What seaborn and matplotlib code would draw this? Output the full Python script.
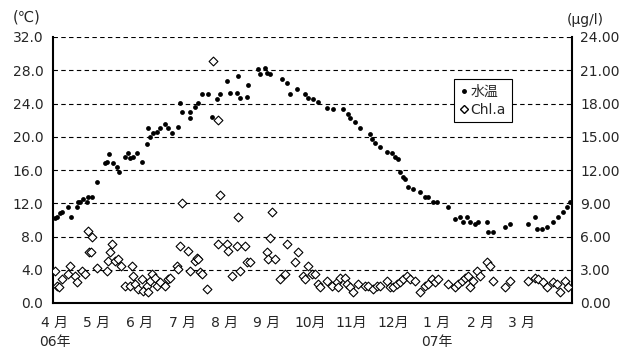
import matplotlib
matplotlib.use("Agg")
import matplotlib.pyplot as plt
from matplotlib.lines import Line2D
import seaborn as sns
import pandas as pd

# ---- data (day counted from 1 April 2006) ----
temp_day = [1.4, 2.8, 4.9, 6.3, 10.5, 12.7, 16.9, 17.6, 19.0, 21.1, 23.9, 24.6, 27.4, 30.9,
            36.6, 38.0, 39.4, 42.2, 45.0, 46.4, 50.6, 52.7, 54.2, 56.3, 59.1, 62.6, 66.1, 66.8,
            68.2, 70.3, 73.1, 75.3, 78.8, 80.9, 83.7, 87.9, 89.3, 90.7, 96.4, 96.4, 99.9, 102.0,
            104.8, 109.0, 111.8, 115.3, 117.5, 122.4, 124.5, 129.4, 130.1, 131.5, 136.4, 137.1,
            144.2, 145.6, 149.1, 150.5, 152.6, 161.1, 164.6, 166.7, 171.6, 177.2, 179.3, 182.9,
            186.4, 192.7, 196.9, 204.0, 207.5, 208.9, 212.4, 215.9, 223.0, 224.4, 226.5, 230.0,
            234.9, 238.4, 240.5, 242.7, 244.1, 246.0, 247.6, 249.7, 253.2, 258.1, 261.6, 263.7,
            267.3, 270.1, 277.8, 282.7, 286.2, 288.3, 291.2, 293.3, 296.8, 298.9, 305.2, 305.9,
            309.5, 317.9, 321.4, 334.1, 339.0, 340.4, 343.9, 347.4, 351.7, 355.2, 358.7, 361.5,
            363.6]
temp_val = [10.2, 10.4, 10.8, 10.9, 11.6, 10.4, 11.6, 12.1, 12.2, 12.5, 12.2, 12.7, 12.8, 14.5,
            16.9, 17.0, 17.9, 16.9, 16.4, 15.8, 17.6, 18.1, 17.4, 17.6, 18.1, 17.0, 19.1, 21.1,
            20.0, 20.5, 20.6, 21.1, 21.5, 21.1, 20.5, 21.2, 24.1, 23.0, 22.3, 23.0, 23.6, 24.1,
            25.1, 25.2, 22.4, 24.5, 25.1, 26.7, 25.3, 25.3, 27.3, 24.7, 24.8, 26.2,
            28.1, 27.5, 28.3, 27.7, 27.5, 26.9, 26.5, 25.1, 25.7, 25.1, 24.7, 24.5,
            24.2, 23.5, 23.3, 23.3, 22.7, 22.3, 21.8, 21.1, 20.3, 19.7, 19.3, 18.8,
            18.2, 18.1, 17.6, 17.3, 15.8, 15.1, 14.9, 14.0, 13.7, 13.3, 12.8, 12.7,
            12.1, 12.2, 11.5, 10.1, 10.3, 9.8, 10.3, 9.7, 9.5, 9.7, 9.7, 8.6,
            8.6, 9.1, 9.5, 9.5, 10.4, 8.9, 8.9, 9.1, 9.8, 10.3, 10.9, 11.5,
            12.1]

chl_day = [1.4, 2.8, 4.2, 6.3, 10.5, 12.0, 15.5, 16.9, 20.4, 22.5, 24.6, 25.3, 26.7, 27.4, 30.9,
           38.0, 38.7, 40.1, 41.5, 43.6, 45.7, 47.8, 50.6, 54.2, 55.6, 56.3, 57.7, 59.8, 62.6,
           63.3, 66.1, 66.8, 68.2, 69.6, 71.7, 73.1, 75.3, 78.8, 80.9, 82.3, 87.2, 87.9, 89.3,
           90.7, 94.9, 96.4, 99.9, 101.3, 102.0, 103.4, 104.8, 108.3, 112.5, 116.0, 116.0, 117.5,
           122.4, 123.1, 125.9, 129.4, 130.1, 131.5, 135.0, 136.4, 138.6, 150.5, 151.2, 152.6,
           154.0, 156.1, 159.6, 163.2, 164.6, 170.2, 172.3, 175.8, 177.2, 179.3, 182.2, 184.3,
           186.4, 187.8, 192.7, 196.2, 199.7, 200.4, 201.8, 205.4, 206.8, 208.9, 211.0, 214.5,
           219.4, 221.5, 225.1, 227.9, 230.0, 234.9, 237.0, 239.1, 241.9, 244.1, 246.2, 249.0,
           251.1, 254.6, 258.1, 261.6, 263.7, 266.6, 268.7, 270.8, 277.8, 282.7, 284.8, 287.7,
           289.8, 291.9, 293.3, 295.4, 298.2, 300.3, 305.2, 307.3, 309.5, 317.9, 321.4, 334.1,
           339.0, 341.1, 344.6, 347.4, 351.7, 354.5, 356.6, 360.1, 362.2]
chl_val = [2.9, 1.5, 1.4, 2.2, 2.6, 3.3, 2.4, 1.9, 2.9, 2.6, 6.5, 4.6, 4.6, 6.0, 3.2,
           2.9, 3.8, 4.6, 5.3, 3.8, 4.0, 3.3, 1.5, 1.5, 3.3, 2.4, 1.7, 1.3, 2.2,
           1.1, 1.5, 1.0, 2.0, 2.6, 2.3, 1.5, 1.9, 1.5, 2.2, 2.3, 3.3, 3.1, 5.1,
           9.0, 4.7, 2.9, 3.8, 4.1, 4.0, 2.8, 2.6, 1.3, 21.8, 16.5, 5.3, 9.7,
           5.3, 4.7, 2.4, 5.1, 7.8, 2.9, 5.1, 3.7, 3.7, 4.6, 4.0, 5.9,
           8.2, 4.0, 2.2, 2.6, 5.3, 3.7, 4.6, 2.4, 2.2, 3.3, 2.6, 2.6,
           1.7, 1.4, 2.0, 1.5, 1.9, 1.4, 2.3, 2.3, 1.7, 1.4, 1.0, 1.7,
           1.5, 1.5, 1.3, 1.5, 1.5, 2.0, 1.4, 1.4, 1.7, 1.9, 2.2, 2.4,
           2.2, 2.0, 1.0, 1.5, 1.7, 2.2, 1.9, 2.2, 1.7, 1.4, 1.7, 2.0,
           2.3, 2.4, 1.4, 2.0, 2.9, 2.4, 3.7, 3.3, 2.0, 1.4, 2.0, 2.0,
           2.3, 2.2, 1.9, 1.4, 1.9, 1.7, 1.0, 2.0, 1.4]

month_labels = ["4 月\n06年", "5 月", "6 月", "7 月", "8 月", "9 月", "10月", "11月", "12月",
                "1 月\n07年", "2 月", "3 月"]
left_ticks = [0, 4, 8, 12, 16, 20, 24, 28, 32]
right_ticks = [0, 3, 6, 9, 12, 15, 18, 21, 24]

df_t = pd.DataFrame({"day": temp_day, "val": temp_val})
df_c = pd.DataFrame({"day": chl_day, "val": chl_val})

sns.set_style("white")
plt.rcParams["font.family"] = ["DejaVu Sans", "Noto Sans CJK JP"]

fig = plt.figure(figsize=(6.35, 3.52), dpi=100)
ax = fig.add_axes([53 / 635, 1 - 303 / 352, 519 / 635, 266 / 352])
ax2 = ax.twinx()

sns.scatterplot(data=df_t, x="day", y="val", ax=ax, color="black", marker="o", s=12,
                edgecolor="black", linewidth=0, zorder=3)
sns.scatterplot(data=df_c, x="day", y="val", ax=ax2, marker="D", s=20, facecolor="white",
                edgecolor="black", linewidth=0.8, zorder=3)

ax.set_xlim(0, 365)
ax.set_ylim(0, 32)
ax2.set_ylim(0, 24)

tick_pos = [1.4, 30.9, 61.2, 91.4, 121.0, 150.5, 180.7, 209.5, 239.0, 270.0, 300.3, 329.8]
ax.set_xticks(tick_pos)
ax.set_xticklabels(month_labels, fontsize=10, linespacing=1.5)
ax.set_yticks(left_ticks)
ax.set_yticklabels([f"{v:.1f}" for v in left_ticks], fontsize=10)
ax2.set_yticks(right_ticks)
ax2.set_yticklabels([f"{v:.2f}" for v in right_ticks], fontsize=10)
ax.tick_params(axis="both", length=0, pad=7)
ax.tick_params(axis="x", pad=9)
ax2.tick_params(axis="y", length=0, pad=6)

for a in (ax, ax2):
    a.set_xlabel("")
    a.set_ylabel("")
    for s in a.spines.values():
        s.set_color("black")
    a.spines["top"].set_visible(False)
ax.spines["left"].set_linewidth(1.5)
ax.spines["bottom"].set_linewidth(1.5)
ax2.spines["right"].set_linewidth(1.5)
ax2.spines["left"].set_visible(False)
ax.spines["right"].set_visible(False)
ax2.spines["bottom"].set_visible(False)

for v in left_ticks[1:]:
    ax.axhline(v, color="black", linestyle=(0, (4, 3)), linewidth=0.8, zorder=1)

fig.text(27 / 635, 1 - 17 / 352, "(℃)", fontsize=10.5, ha="center", va="center")
fig.text(585 / 635, 1 - 20 / 352, "(μg/l)", fontsize=10, ha="center", va="center")

handles = [Line2D([], [], marker="o", color="black", linestyle="", markersize=2.5),
           Line2D([], [], marker="D", markerfacecolor="white", markeredgecolor="black",
                  linestyle="", markersize=4)]
leg = ax2.legend(handles, ["水温", "Chl.a"], loc="upper left",
                 bbox_to_anchor=((447 - 53) / 519, (303 - 72) / 266), fontsize=10,
                 frameon=True, fancybox=False, framealpha=1, edgecolor="black",
                 handlelength=0.6, handletextpad=0.2, borderpad=0.4, labelspacing=0.3)
leg.get_frame().set_linewidth(0.8)

fig.savefig("out.png", dpi=100)
